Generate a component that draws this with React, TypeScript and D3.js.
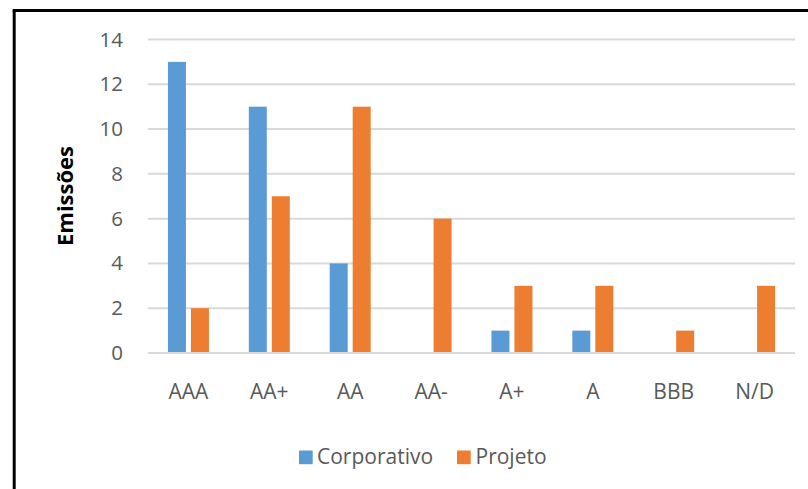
import React from "react";
import * as d3 from "d3";

const categories = ["AAA", "AA+", "AA", "AA-", "A+", "A", "BBB", "N/D"];
const seriesNames = ["Corporativo", "Projeto"];
const corporativo = [13, 11, 4, 0, 1, 1, 0, 0];
const projeto = [2, 7, 11, 6, 3, 3, 1, 3];
const yTicks = [0, 2, 4, 6, 8, 10, 12, 14];
const colors = ["#5B9BD5", "#ED7D31"];

const W = 808;
const H = 489;
const plotLeft = 148;
const plotRight = 795;
const plotTop = 39.5;
const plotBottom = 353;
const font = "'Open Sans', 'DejaVu Sans', sans-serif";
const textColor = "#595959";

export default function App() {
  const x = d3.scaleBand<string>().domain(categories).range([plotLeft, plotRight]);
  const y = d3.scaleLinear().domain([0, 14]).range([plotBottom, plotTop]);
  const values = [corporativo, projeto];

  return (
    <div style={{ position: "fixed", left: 0, top: 0 }}>
      <svg width={W} height={H} style={{ display: "block", background: "#fff" }}>
        <rect x={0} y={0} width={W} height={H} fill="#fff" />
        {/* frame */}
        <line x1={14.2} y1={10.5} x2={14.2} y2={H} stroke="#000" strokeWidth={3} />
        <line x1={12.7} y1={10.5} x2={W} y2={10.5} stroke="#000" strokeWidth={3} />
        {/* gridlines */}
        {yTicks.map((t) => (
          <line key={t} x1={plotLeft} x2={plotRight} y1={y(t)} y2={y(t)} stroke="#D9D9D9" strokeWidth={2} />
        ))}
        {/* tick labels */}
        {yTicks.map((t) => (
          <text key={"l" + t} x={123} y={y(t) + 7} textAnchor="end" fontFamily={font} fontSize={20.5} fill={textColor}>
            {t}
          </text>
        ))}
        {/* bars */}
        {categories.map((c, i) => {
          const center = (x(c) as number) + x.bandwidth() / 2;
          const x1 = d3.scaleBand<string>().domain(seriesNames).range([center - 20.5, center + 20.5]).paddingInner(5 / 23);
          return (
            <g key={c}>
              {seriesNames.map((s, j) => {
                const v = values[j][i];
                if (!v) return null;
                return (
                  <rect
                    key={s}
                    x={x1(s) as number}
                    y={y(v)}
                    width={x1.bandwidth()}
                    height={y(0) - y(v) - 1}
                    fill={colors[j]}
                  />
                );
              })}
              <text x={center} y={399} textAnchor="middle" fontFamily={font} fontSize={21} fill={textColor}>
                {c}
              </text>
            </g>
          );
        })}
        {/* axis title */}
        <text
          transform="translate(73,196) rotate(-90)"
          textAnchor="middle"
          fontFamily={font}
          fontWeight="bold"
          fontSize={22}
          fill="#000"
        >
          Emissões
        </text>
        {/* legend */}
        <rect x={299} y={450.5} width={13.7} height={13.7} fill={colors[0]} />
        <text x={317} y={464.3} fontFamily={font} fontSize={21} fill={textColor}>
          {seriesNames[0]}
        </text>
        <rect x={457} y={450.5} width={13.7} height={13.7} fill={colors[1]} />
        <text x={475.5} y={464.3} fontFamily={font} fontSize={21} fill={textColor}>
          {seriesNames[1]}
        </text>
      </svg>
    </div>
  );
}
